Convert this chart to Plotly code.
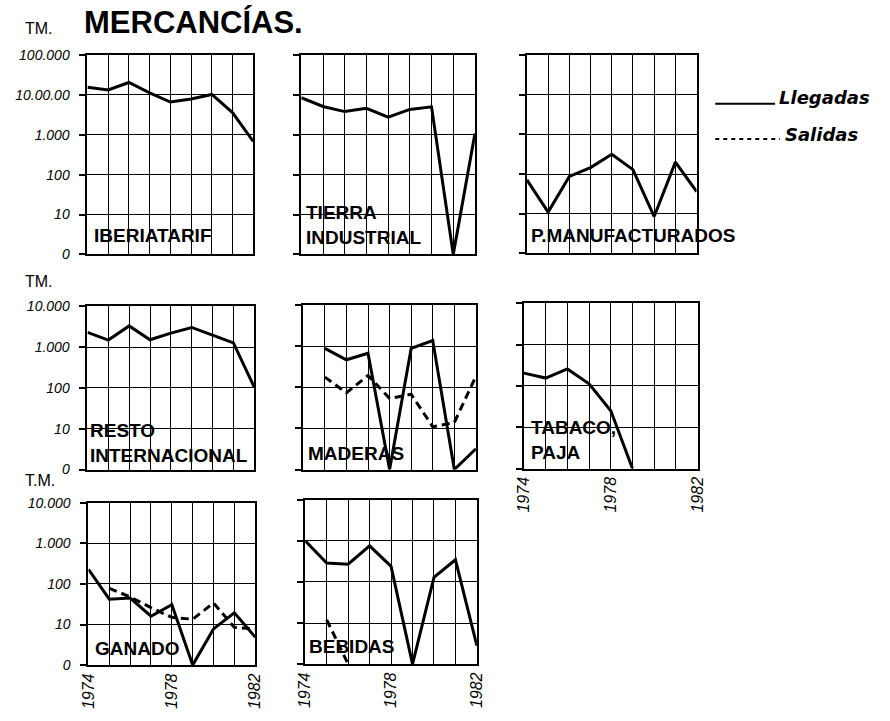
import plotly.graph_objects as go

# ---------------- data (T.M.; 0 plotted on the "0" baseline) ----------------
years = [1974, 1975, 1976, 1977, 1978, 1979, 1980, 1981, 1982]

iberiatarif = [15500, 13200, 20400, 11200, 6600, 7900, 10200, 3600, 680]
tierra_industrial = [8500, 5100, 3800, 4600, 2750, 4300, 5000, 0, 1070]
p_manufacturados = [71, 11, 87, 145, 316, 129, 8.5, 200, 36]
resto_internacional = [2300, 1480, 3300, 1510, 2190, 3020, 1950, 1260, 105]
maderas_llegadas = [None, 890, 470, 680, 0, 890, 1380, 0, 3.2]
maderas_salidas = [None, 178, 74, 195, 54, 68, 11, 14, 186]
tabaco_paja = [204, 155, 257, 112, 25, 0, None, None, None]
ganado_llegadas = [229, 42, 45, 16, 31, 0, 7.8, 19.5, 4.9]
ganado_salidas = [None, 78, 48, 26, 15, 13.5, 34, 8.5, 7.8]
bebidas_llegadas = [1000, 290, 270, 760, 240, 0, 129, 347, 2.8]
bebidas_salidas = [None, 12, 0, None, None, None, None, None, None]

row1_tickvals = [1, 10, 100, 1000, 10000, 100000]
row1_ticktext = ["0", "10", "100", "1.000", "10.00.00", "100.000"]
row23_tickvals = [1, 10, 100, 1000, 10000]
row23_ticktext = ["0", "10", "100", "1.000", "10.000"]
year_ticktext = ["1974", "", "", "", "1978", "", "", "", "1982"]

W, H = 890, 721


def px(x):
    return x / W


def py(y):
    return 1 - y / H


def plotval(vals):
    return [None if v is None else max(v, 1) for v in vals]


# panel boxes in pixels: (x0, x1, ytop, ybottom)
panels = [
    dict(box=(80, 249, 48, 252), decades=5, ylabels=True, xlabels=False,
         series=[(iberiatarif, "solid")], label=("IBERIATARIF", 85, 233)),
    dict(box=(298, 475, 48, 252), decades=5, ylabels=False, xlabels=False,
         series=[(tierra_industrial, "solid")],
         label=("TIERRA<br>INDUSTRIAL", 301, 222)),
    dict(box=(528, 701, 48, 251), decades=5, ylabels=False, xlabels=False,
         series=[(p_manufacturados, "solid")], label=("P.MANUFACTURADOS", 530, 233)),
    dict(box=(80, 250, 305, 472), decades=4, ylabels=True, xlabels=False,
         series=[(resto_internacional, "solid")],
         label=("RESTO<br>INTERNACIONAL", 81, 445)),
    dict(box=(300, 476, 304, 472), decades=4, ylabels=False, xlabels=False,
         series=[(maderas_llegadas, "solid"), (maderas_salidas, "dash")],
         label=("MADERAS", 303, 456)),
    dict(box=(525, 702, 302, 471), decades=4, ylabels=False, xlabels=True,
         series=[(tabaco_paja, "solid")],
         label=("TABACO,<br>PAJA", 530, 442)),
    dict(box=(81, 251, 506, 672), decades=4, ylabels=True, xlabels=True,
         series=[(ganado_llegadas, "solid"), (ganado_salidas, "dash")],
         label=("GANADO", 86, 655)),
    dict(box=(302, 477, 503, 671), decades=4, ylabels=False, xlabels=True,
         series=[(bebidas_llegadas, "solid"), (bebidas_salidas, "dash")],
         label=("BEBIDAS", 304, 653)),
]

fig = go.Figure()
layout = {}
annotations = []
label_font = dict(family="Liberation Sans", size=19, color="black", weight="bold")

for i, p in enumerate(panels, start=1):
    x0, x1, yt, yb = p["box"]
    xa = "xaxis" if i == 1 else f"xaxis{i}"
    ya = "yaxis" if i == 1 else f"yaxis{i}"
    xr = "x" if i == 1 else f"x{i}"
    yr = "y" if i == 1 else f"y{i}"
    for vals, style in p["series"]:
        fig.add_trace(go.Scatter(
            x=years, y=plotval(vals), xaxis=xr, yaxis=yr, mode="lines",
            line=dict(color="black", width=3,
                      dash="solid" if style == "solid" else "8px,5px"),
            connectgaps=False, showlegend=False, hoverinfo="skip"))
    layout[xa] = dict(
        domain=[px(x0), px(x1)], anchor=yr, range=[1974, 1982],
        tickvals=years, ticktext=year_ticktext if p["xlabels"] else [""] * 9,
        showticklabels=p["xlabels"], tickangle=-90, ticks="",
        tickfont=dict(family="Liberation Sans", size=16, color="black", style="italic"),
        showgrid=True, gridcolor="black", gridwidth=1.4,
        showline=True, linecolor="black", linewidth=2, mirror=True, zeroline=False,
        fixedrange=True)
    tv = row1_tickvals if p["decades"] == 5 else row23_tickvals
    tt = row1_ticktext if p["decades"] == 5 else row23_ticktext
    layout[ya] = dict(
        domain=[py(yb), py(yt)], anchor=xr, type="log", range=[0, p["decades"]],
        tickvals=tv, ticktext=tt, showticklabels=p["ylabels"],
        ticks="outside", ticklen=6, tickwidth=1.5, tickcolor="black",
        ticklabelstandoff=7,
        tickfont=dict(family="Liberation Sans", size=14, color="black", style="italic"),
        showgrid=True, gridcolor="black", gridwidth=1.4,
        showline=True, linecolor="black", linewidth=2, mirror=True, zeroline=False,
        fixedrange=True)
    text, lx, ly = p["label"]
    annotations.append(dict(text=text, x=px(lx), y=py(ly), xref="paper", yref="paper",
                            xanchor="left", yanchor="middle", align="left",
                            showarrow=False, font=label_font))

# Title and unit labels
annotations += [
    dict(text="MERCANCÍAS.", x=px(74), y=py(15), xref="paper", yref="paper",
         xanchor="left", yanchor="middle", showarrow=False,
         font=dict(family="Liberation Sans", size=31, color="black", weight="bold")),
    dict(text="TM.", x=px(14), y=py(21), xref="paper", yref="paper",
         xanchor="left", yanchor="middle", showarrow=False,
         font=dict(family="Liberation Sans", size=16, color="black")),
    dict(text="TM.", x=px(14), y=py(280), xref="paper", yref="paper",
         xanchor="left", yanchor="middle", showarrow=False,
         font=dict(family="Liberation Sans", size=16, color="black")),
    dict(text="T.M.", x=px(14), y=py(483), xref="paper", yref="paper",
         xanchor="left", yanchor="middle", showarrow=False,
         font=dict(family="Liberation Sans", size=16, color="black")),
    dict(text="Llegadas", x=px(783), y=py(92), xref="paper", yref="paper",
         xanchor="left", yanchor="middle", showarrow=False,
         font=dict(family="DejaVu Sans", size=18, color="black", style="italic", weight="bold")),
    dict(text="Salidas", x=px(789), y=py(129), xref="paper", yref="paper",
         xanchor="left", yanchor="middle", showarrow=False,
         font=dict(family="DejaVu Sans", size=18, color="black", style="italic", weight="bold")),
]

shapes = [
    dict(type="line", xref="paper", yref="paper", x0=px(720), x1=px(781), y0=py(98), y1=py(98),
         line=dict(color="black", width=2)),
    dict(type="line", xref="paper", yref="paper", x0=px(720), x1=px(786), y0=py(134), y1=py(134),
         line=dict(color="black", width=2, dash="4px,4px")),
]

fig.update_layout(
    width=W, height=H, margin=dict(l=0, r=0, t=0, b=0),
    paper_bgcolor="white", plot_bgcolor="white",
    annotations=annotations, shapes=shapes, showlegend=False, **layout)

fig.write_html("out.html", config={"displayModeBar": False},
               post_script="document.body.style.margin='0';")
